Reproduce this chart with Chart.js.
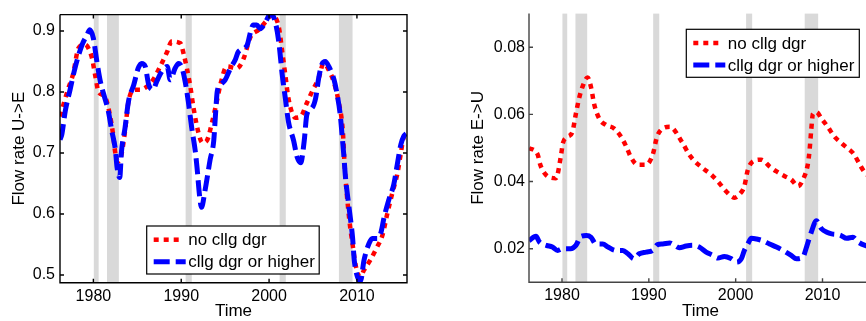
<!DOCTYPE html>
<html lang="en">
<head>
  <meta charset="UTF-8">
  <title>Flow rates U->E and E->U</title>
  <script src="https://cdn.jsdelivr.net/npm/chart.js@4.4.0/dist/chart.umd.min.js"></script>
  <style>
    html, body { margin: 0; padding: 0; background: #fff; overflow: hidden; }
    .wrap { position: relative; width: 866px; height: 321px; overflow: hidden; }
    #ueChart { position: absolute; left: 0; top: 0; }
    #euChart { position: absolute; left: 440px; top: 0; }
  </style>
</head>
<body>
  <div class="wrap">
    <canvas id="ueChart" width="440" height="321"></canvas>
    <canvas id="euChart" width="432" height="321"></canvas>
  </div>

  <script>
    // recession bands (years)
    const recessionStart = [1980.05, 1981.55, 1990.5, 2001.2, 2007.95];
    const recessionEnd   = [1980.6, 1982.9, 1991.2, 2001.9, 2009.5];

    const yearTicks = [1980, 1990, 2000, 2010];
    const ueTicks = [0.5, 0.6, 0.7, 0.8, 0.9];
    const euTicks = [0.02, 0.04, 0.06, 0.08];

    const legendLabels = ['no cllg dgr', 'cllg dgr or higher'];

    // U->E, no college degree
    const ueNoYears = [1976.2, 1976.6, 1977.1, 1977.7, 1978.3, 1979.0, 1979.8, 1980.2, 1980.6, 1981.3, 1981.8, 1982.2, 1982.5, 1982.8, 1983.2, 1983.6, 1984.0, 1984.75, 1985.3, 1986.1, 1986.8, 1987.6, 1988.4, 1988.9, 1989.9, 1990.3, 1991.0, 1991.4, 1992.0, 1992.4, 1992.9, 1993.5, 1994.1, 1994.45, 1995.2, 1996.35, 1997.1, 1997.9, 1998.8, 1999.6, 2000.3, 2001.1, 2001.5, 2001.85, 2002.2, 2003.0, 2003.6, 2004.3, 2004.9, 2005.65, 2006.2, 2006.8, 2007.4, 2007.9, 2008.4, 2008.6, 2009.1, 2009.5, 2009.9, 2010.4, 2010.8, 2011.5, 2012.3, 2012.9, 2013.45, 2014.0, 2014.6, 2015.0, 2015.3, 2015.7];
    const ueNo = [0.760, 0.780, 0.804, 0.830, 0.872, 0.878, 0.858, 0.828, 0.800, 0.793, 0.768, 0.735, 0.700, 0.686, 0.698, 0.736, 0.785, 0.804, 0.804, 0.809, 0.820, 0.842, 0.866, 0.883, 0.880, 0.861, 0.812, 0.774, 0.731, 0.717, 0.720, 0.750, 0.788, 0.812, 0.842, 0.839, 0.855, 0.891, 0.902, 0.915, 0.926, 0.907, 0.866, 0.828, 0.790, 0.758, 0.760, 0.782, 0.801, 0.823, 0.847, 0.836, 0.815, 0.785, 0.735, 0.680, 0.595, 0.551, 0.513, 0.497, 0.508, 0.524, 0.546, 0.565, 0.600, 0.633, 0.666, 0.700, 0.725, 0.733];

    // U->E, college degree or higher
    const ueColYears = [1976.2, 1976.4, 1976.8, 1977.35, 1977.9, 1978.7, 1979.25, 1979.6, 1980.0, 1980.4, 1980.8, 1981.3, 1981.7, 1982.1, 1982.5, 1982.7, 1983.0, 1983.2, 1983.6, 1984.0, 1984.6, 1985.1, 1985.5, 1985.9, 1986.3, 1986.8, 1987.2, 1987.8, 1988.4, 1988.75, 1989.3, 1989.7, 1990.1, 1990.45, 1990.8, 1991.2, 1991.6, 1991.8, 1992.1, 1992.3, 1992.7, 1993.3, 1993.7, 1993.9, 1994.1, 1994.45, 1995.0, 1995.6, 1996.15, 1996.5, 1997.5, 1997.9, 1998.2, 1998.6, 1999.0, 1999.6, 2000.2, 2000.7, 2001.1, 2001.5, 2001.85, 2002.2, 2002.8, 2003.2, 2003.6, 2004.0, 2004.3, 2004.9, 2005.3, 2005.65, 2006.0, 2006.4, 2006.8, 2007.4, 2007.75, 2008.1, 2008.3, 2008.5, 2008.7, 2009.1, 2009.5, 2009.7, 2010.0, 2010.4, 2010.8, 2011.35, 2011.75, 2012.3, 2012.7, 2013.1, 2013.6, 2014.2, 2014.6, 2015.0, 2015.35, 2015.7];
    const ueCol = [0.722, 0.730, 0.769, 0.804, 0.839, 0.877, 0.893, 0.902, 0.888, 0.850, 0.817, 0.790, 0.769, 0.736, 0.706, 0.676, 0.660, 0.703, 0.741, 0.785, 0.812, 0.839, 0.847, 0.842, 0.812, 0.804, 0.817, 0.834, 0.842, 0.820, 0.839, 0.847, 0.839, 0.817, 0.785, 0.741, 0.703, 0.676, 0.628, 0.611, 0.638, 0.690, 0.720, 0.763, 0.801, 0.812, 0.820, 0.839, 0.853, 0.866, 0.877, 0.899, 0.910, 0.910, 0.904, 0.915, 0.929, 0.915, 0.883, 0.828, 0.790, 0.752, 0.720, 0.693, 0.684, 0.720, 0.763, 0.774, 0.790, 0.823, 0.845, 0.850, 0.842, 0.820, 0.796, 0.763, 0.731, 0.698, 0.660, 0.611, 0.562, 0.524, 0.500, 0.490, 0.524, 0.551, 0.560, 0.560, 0.568, 0.595, 0.622, 0.649, 0.682, 0.714, 0.728, 0.733];

    // E->U, no college degree
    const euNoYears = [1976.2, 1977.2, 1977.5, 1978.15, 1979.3, 1979.9, 1980.1, 1980.65, 1981.2, 1981.6, 1982.0, 1982.4, 1982.95, 1983.35, 1983.7, 1984.3, 1985.1, 1986.0, 1986.8, 1987.4, 1987.95, 1988.7, 1989.7, 1990.45, 1991.0, 1992.4, 1993.9, 1994.6, 1995.3, 1996.2, 1997.2, 1998.1, 1998.9, 1999.9, 2000.45, 2001.0, 2001.4, 2002.0, 2002.95, 2003.9, 2004.7, 2005.65, 2006.4, 2007.2, 2007.75, 2008.3, 2008.5, 2008.7, 2008.9, 2009.3, 2009.9, 2010.6, 2011.4, 2012.2, 2012.9, 2013.6, 2014.3, 2014.9, 2015.7];
    const euNo = [0.0500, 0.0480, 0.0450, 0.0420, 0.0410, 0.0480, 0.0514, 0.0533, 0.0548, 0.0602, 0.0651, 0.0685, 0.0710, 0.0680, 0.0631, 0.0587, 0.0568, 0.0558, 0.0533, 0.0504, 0.0472, 0.0450, 0.0450, 0.0480, 0.0538, 0.0563, 0.0514, 0.0482, 0.0460, 0.0440, 0.0420, 0.0396, 0.0371, 0.0352, 0.0362, 0.0386, 0.0435, 0.0460, 0.0465, 0.0445, 0.0430, 0.0416, 0.0406, 0.0386, 0.0406, 0.0450, 0.0490, 0.0553, 0.0602, 0.0607, 0.0587, 0.0563, 0.0533, 0.0514, 0.0499, 0.0482, 0.0450, 0.0426, 0.0410];

    // E->U, college degree or higher
    const euColYears = [1976.2, 1977.0, 1977.4, 1978.2, 1978.9, 1979.5, 1980.1, 1981.0, 1981.6, 1982.2, 1982.8, 1983.35, 1983.9, 1984.7, 1985.3, 1986.2, 1987.0, 1987.6, 1988.3, 1988.9, 1989.7, 1990.45, 1991.0, 1991.6, 1992.4, 1992.95, 1993.5, 1994.3, 1995.05, 1995.8, 1996.6, 1997.4, 1997.95, 1998.7, 1999.5, 2000.1, 2000.65, 2001.0, 2001.4, 2001.8, 2002.4, 2003.1, 2003.9, 2004.7, 2005.45, 2006.4, 2007.0, 2007.75, 2008.1, 2008.7, 2009.3, 2009.9, 2010.5, 2011.05, 2012.0, 2012.8, 2013.5, 2014.1, 2014.9, 2015.7];
    const euCol = [0.0224, 0.0237, 0.0220, 0.0210, 0.0205, 0.0195, 0.0200, 0.0200, 0.0210, 0.0237, 0.0239, 0.0234, 0.0214, 0.0214, 0.0205, 0.0195, 0.0195, 0.0185, 0.0170, 0.0185, 0.0190, 0.0195, 0.0212, 0.0214, 0.0217, 0.0210, 0.0203, 0.0208, 0.0210, 0.0205, 0.0190, 0.0180, 0.0172, 0.0177, 0.0170, 0.0160, 0.0170, 0.0195, 0.0214, 0.0231, 0.0229, 0.0224, 0.0214, 0.0205, 0.0195, 0.0180, 0.0170, 0.0175, 0.0200, 0.0249, 0.0283, 0.0259, 0.0249, 0.0244, 0.0241, 0.0231, 0.0234, 0.0220, 0.0210, 0.0205];

    Chart.defaults.font.family = '"Liberation Sans", Arial, Helvetica, sans-serif';
    Chart.defaults.color = '#000';

    const zip = (xs, ys) => xs.map((x, i) => ({ x, y: ys[i] }));

    // recession shading, inward ticks, axis lines, legend box
    const framePlugin = {
      id: 'frame',
      beforeDatasetsDraw(chart) {
        const { ctx, chartArea: a, scales: { x } } = chart;
        ctx.save();
        ctx.fillStyle = '#d9d9d9';
        recessionStart.forEach((s, i) => {
          const x0 = x.getPixelForValue(s);
          const x1 = x.getPixelForValue(recessionEnd[i]);
          ctx.fillRect(x0, a.top, x1 - x0, a.bottom - a.top);
        });
        ctx.restore();
      },
      afterDatasetsDraw(chart, args, opts) {
        const { ctx, chartArea: a, scales: { x, y } } = chart;
        ctx.save();
        ctx.strokeStyle = opts.axisColor;
        ctx.lineWidth = 1.4;
        ctx.beginPath();
        ctx.moveTo(a.left, a.top); ctx.lineTo(a.left, a.bottom); ctx.lineTo(a.right, a.bottom);
        if (opts.box) { ctx.lineTo(a.right, a.top); ctx.lineTo(a.left, a.top); }
        const tl = 4;
        x.ticks.forEach(t => {
          const px = x.getPixelForValue(t.value);
          ctx.moveTo(px, a.bottom); ctx.lineTo(px, a.bottom - tl);
          if (opts.box) { ctx.moveTo(px, a.top); ctx.lineTo(px, a.top + tl); }
        });
        y.ticks.forEach(t => {
          const py = y.getPixelForValue(t.value);
          ctx.moveTo(a.left, py); ctx.lineTo(a.left + tl, py);
          if (opts.box) { ctx.moveTo(a.right, py); ctx.lineTo(a.right - tl, py); }
        });
        ctx.stroke();
        ctx.restore();
      },
      afterDraw(chart, args, opts) {
        const { ctx } = chart;
        const b = opts.legend;
        ctx.save();
        ctx.fillStyle = '#fff';
        ctx.fillRect(b.x, b.y, b.w, b.h);
        ctx.strokeStyle = '#000';
        ctx.lineWidth = 1.2;
        ctx.strokeRect(b.x, b.y, b.w, b.h);
        const rows = [13.7, 35.7];
        const sampleLen = [27, 32];
        // legend order: red first, blue second
        [1, 0].forEach((di, r) => {
          const ds = chart.data.datasets[di];
          const ly = b.y + rows[r];
          ctx.strokeStyle = ds.borderColor;
          ctx.lineWidth = ds.borderWidth;
          ctx.setLineDash(ds.borderDash);
          ctx.beginPath();
          ctx.moveTo(b.x + 7, ly); ctx.lineTo(b.x + 7 + sampleLen[r], ly);
          ctx.stroke();
          ctx.setLineDash([]);
          ctx.fillStyle = '#000';
          ctx.font = '17px "Liberation Sans", Arial, sans-serif';
          ctx.textBaseline = 'middle';
          ctx.fillText(ds.label, b.x + 41.5, ly + 1);
        });
        ctx.restore();
      }
    };

    function makeChart(id, noData, colData, yMin, yMax, yTicks, digits, yTitle, cfg) {
      return new Chart(document.getElementById(id), {
        type: 'line',
        data: {
          datasets: [
            { label: legendLabels[1], data: colData, borderColor: '#0000ff', borderWidth: 5, borderDash: [16, 6], pointRadius: 0, cubicInterpolationMode: 'monotone', order: 0 },
            { label: legendLabels[0], data: noData, borderColor: '#ff0000', borderWidth: 4.5, borderDash: [5, 5], pointRadius: 0, cubicInterpolationMode: 'monotone', order: 1 }
          ]
        },
        options: {
          responsive: false,
          animation: false,
          devicePixelRatio: 1,
          layout: { padding: { top: 13, right: cfg.padRight, left: 0, bottom: 0 } },
          plugins: {
            legend: { display: false },
            tooltip: { enabled: false },
            frame: { box: cfg.box, axisColor: cfg.axisColor, legend: cfg.legend }
          },
          scales: {
            x: {
              type: 'linear',
              min: 1976.2,
              max: 2015.7,
              grid: { display: false, drawTicks: false },
              border: { display: false },
              afterBuildTicks: s => { s.ticks = yearTicks.map(v => ({ value: v })); },
              afterFit: s => { s.height = cfg.xHeight; },
              ticks: { font: { size: 16 }, padding: 4, maxRotation: 0, callback: v => String(v) },
              title: { display: true, text: 'Time', font: { size: 17, lineHeight: 1.1 }, padding: 0 }
            },
            y: {
              min: yMin,
              max: yMax,
              grid: { display: false, drawTicks: false },
              border: { display: false },
              afterBuildTicks: s => { s.ticks = yTicks.map(v => ({ value: v })); },
              afterFit: s => { s.width = cfg.yWidth; },
              ticks: { font: { size: 16 }, padding: cfg.yPad, callback: v => Number(v).toFixed(digits) },
              title: { display: true, text: yTitle, font: { size: 17 }, padding: { top: cfg.titlePad, bottom: 0 } }
            }
          }
        },
        plugins: [framePlugin]
      });
    }

    makeChart('ueChart', zip(ueNoYears, ueNo), zip(ueColYears, ueCol), 0.4875, 0.927, ueTicks, 1, 'Flow rate U->E', {
      padRight: 33, xHeight: 38.3, yWidth: 60, yPad: 5, titlePad: 9, box: true, axisColor: '#000',
      legend: { x: 146.7, y: 226, w: 172.5, h: 48 }
    });

    makeChart('euChart', zip(euNoYears, euNo), zip(euColYears, euCol), 0.01, 0.09, euTicks, 2, 'Flow rate E->U', {
      padRight: 0, xHeight: 38.7, yWidth: 89, yPad: 4, titlePad: 28, box: false, axisColor: '#444',
      legend: { x: 246.3, y: 29.3, w: 173, h: 48 }
    });
  </script>
</body>
</html>
